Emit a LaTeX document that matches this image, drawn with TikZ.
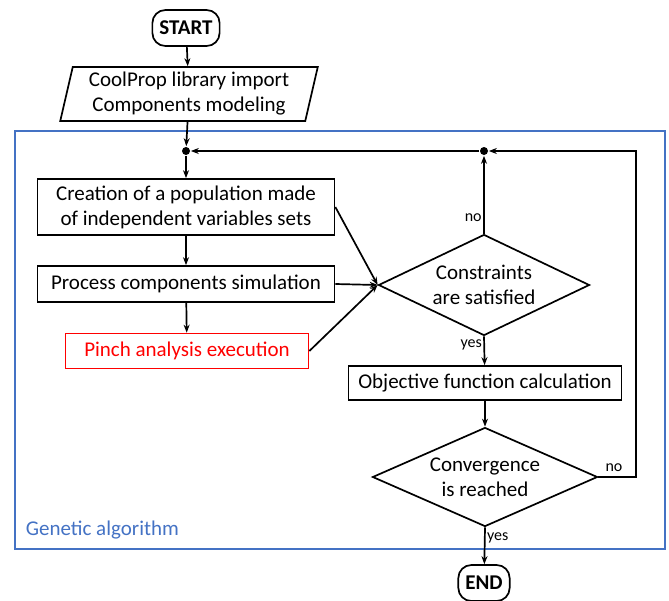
\documentclass[tikz,border=0pt]{standalone}
\usepackage{fontspec}
\setmainfont{Carlito}
\usetikzlibrary{shapes.geometric,arrows.meta}
\definecolor{gablue}{RGB}{68,114,196}

\begin{document}
\begin{tikzpicture}[x=1pt,y=-1pt,font=\fontsize{21}{25}\selectfont,line width=1.7pt,>={Stealth[length=8pt,width=6pt]},
term/.style={draw,rounded corners=13pt,font=\fontsize{21}{25}\selectfont\bfseries,minimum height=36pt,inner xsep=7pt,inner ysep=0pt},
io/.style={draw,trapezium,trapezium left angle=76,trapezium right angle=104,trapezium stretches=true,minimum width=258pt,minimum height=54pt,align=center,inner sep=0pt},
proc/.style={draw,align=center,inner sep=0pt},
pinch/.style={proc,draw=red,text=red},
test/.style={draw,diamond,aspect=2.1,inner xsep=-25pt,inner ysep=-12pt,align=center},
dot/.style={circle,fill,inner sep=0pt,minimum size=8pt},
lbl/.style={font=\fontsize{16}{18}\selectfont,inner sep=1.5pt}]
\useasboundingbox (0,0) rectangle (669,600);

% genetic algorithm frame
\draw[gablue,line width=1.3pt] (15,131) rectangle (665,549);
\node[gablue,anchor=west,inner sep=0pt] (ga) at (25,530) {Genetic algorithm};

\node[term] (start) at (186,28) {START};
\node[io] (lib) at (189,94) {CoolProp library import\\Components modeling};

\node[dot] (d1) at (186,151) {};
\node[dot] (d2) at (484,151) {};
\coordinate (back) at (636,151);

\node[proc,minimum width=297pt,minimum height=56pt] (pop) at (186,207) {Creation of a population made\\of independent variables sets};
\node[proc,minimum width=297pt,minimum height=36pt] (sim) at (186,284) {Process components simulation};
\node[pinch,minimum width=243pt,minimum height=35pt] (pa) at (187,351) {Pinch analysis execution};

\node[test,minimum width=211pt,minimum height=101pt] (cons) at (484,285) {Constraints\\are satisfied};
\node[proc,minimum width=273pt,minimum height=34pt] (obj) at (485,383) {Objective function calculation};
\node[test,minimum width=225pt,minimum height=99pt] (conv) at (485,477) {Convergence\\is reached};

\node[term] (end) at (484,583) {END};

\draw[->] (start) -- (lib);
\draw[->] (lib) -- (d1);
\draw[->] (d1) -- (pop);
\draw[->] (pop) -- (sim);
\draw[->] (sim) -- (pa);
\draw[->] (pop.east) -- (cons.west);
\draw[->] (sim.east) -- (cons.west);
\draw[->] (pa.east) -- (cons.west);
\draw[->] (cons.north) -- (d2) node[lbl,pos=0.2,left] (no1) {no};
\draw[->] (d2) -- (d1);
\draw[->] (cons.south) -- (obj) node[lbl,pos=0.3,left] (yes1) {yes};
\draw[->] (obj) -- (conv);
\draw[->] (conv.east) -| (back) -- (d2);
\node[lbl,anchor=south] (no2) at (614,474) {no};
\draw[->] (conv.south) -- (end) node[lbl,pos=0.3,right] (yes2) {yes};

\end{tikzpicture}
\end{document}
